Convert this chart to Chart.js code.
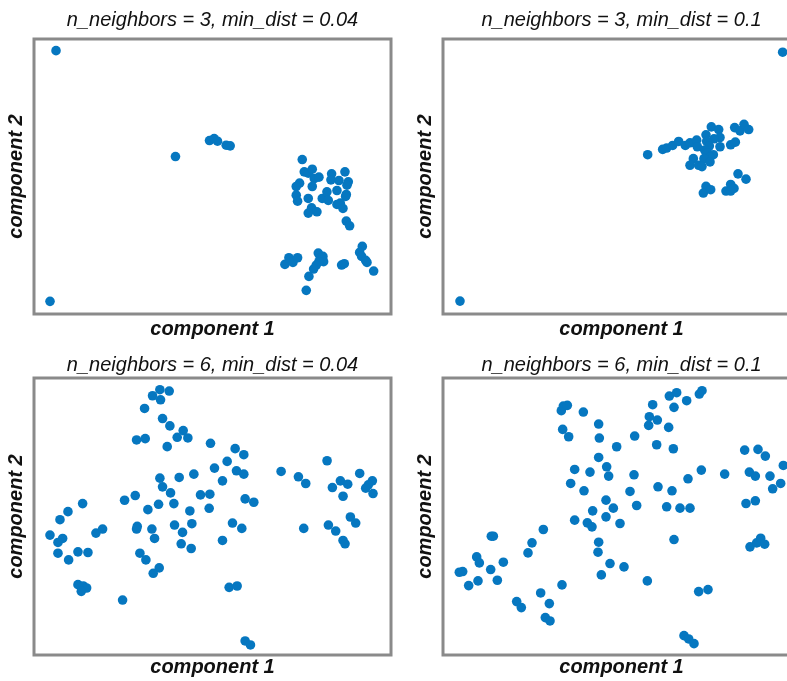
<!DOCTYPE html>
<html>
<head>
<meta charset="utf-8">
<script src="https://cdn.jsdelivr.net/npm/chart.js@4"></script>
<style>
html,body{margin:0;padding:0;background:#fff;overflow:hidden;width:787px;height:681px;}
canvas{position:absolute;}
</style>
</head>
<body>
<canvas id="c1" width="400" height="345" style="left:0;top:0;width:400px;height:345px"></canvas>
<canvas id="c2" width="400" height="345" style="left:409px;top:0;width:400px;height:345px"></canvas>
<canvas id="c3" width="400" height="342" style="left:0;top:339px;width:400px;height:342px"></canvas>
<canvas id="c4" width="400" height="342" style="left:409px;top:339px;width:400px;height:342px"></canvas>
<script>
// Panel titles and axis labels
const panelTitles = [
  'n_neighbors = 3, min_dist = 0.04',
  'n_neighbors = 3, min_dist = 0.1',
  'n_neighbors = 6, min_dist = 0.04',
  'n_neighbors = 6, min_dist = 0.1'
];
const xLabel = 'component 1';
const yLabel = 'component 2';

// Embedding points [component1, component2] (arbitrary units, component 2 measured downward)
const emb_n3_d004 = [
  [78,62],[60,815],[436,380],[538,332],[552,326],[562,334],[588,346],[600,348],
  [816,389],[822,426],[834,430],[846,418],[852,446],[866,442],[904,432],[902,450],
  [926,452],[944,426],[954,456],[950,466],[808,460],[798,470],[798,496],[802,514],
  [846,470],[834,506],[876,506],[890,486],[894,512],[920,482],[948,494],[946,500],
  [920,524],[930,520],[938,536],[844,534],[834,550],[860,546],[948,574],[958,588],
  [996,650],[988,668],[994,680],[1006,692],[1010,698],[1030,724],[934,706],[942,702],
  [764,704],[776,684],[788,698],[802,684],[864,670],[870,684],[878,680],[880,696],
  [866,696],[858,706],[850,718],[836,740],[828,782]
];
const emb_n3_d01 = [
  [1118,60],[150,813],[713,370],[758,354],[770,350],[788,342],[806,330],[826,342],
  [840,334],[860,326],[862,346],[888,310],[904,286],[926,294],[930,318],[912,322],
  [890,330],[898,344],[930,346],[884,356],[892,364],[910,370],[900,378],[882,382],
  [850,382],[840,402],[866,402],[876,406],[900,392],[974,288],[990,298],[1002,278],
  [1016,294],[962,340],[976,332],[984,428],[1008,444],[888,466],[880,486],[902,476],
  [962,460],[948,480],[962,480],[972,472]
];
const emb_n6_d004 = [
  [478,90],[506,94],[456,108],[480,120],[432,146],[486,176],[508,198],[548,212],
  [530,232],[562,234],[408,240],[434,236],[500,260],[630,250],[704,266],[730,284],
  [680,304],[642,324],[708,332],[730,342],[842,334],[980,302],[894,350],[916,370],
  [1078,340],[1020,362],[1042,372],[996,382],[1028,408],[1116,362],[1104,374],[1096,384],
  [1118,400],[478,354],[536,352],[580,342],[666,362],[486,380],[510,398],[600,404],
  [628,402],[372,420],[404,406],[474,432],[520,430],[442,448],[626,444],[568,452],
  [734,416],[760,426],[246,430],[202,454],[178,478],[148,524],[186,534],[172,546],
  [286,518],[306,506],[410,498],[408,506],[454,506],[462,534],[522,494],[574,490],
  [546,516],[542,550],[572,564],[696,488],[724,504],[666,540],[910,504],[984,494],
  [1006,512],[1028,540],[1034,550],[1050,470],[1066,488],[172,578],[204,598],[232,574],
  [262,576],[418,578],[436,598],[476,622],[458,638],[232,672],[248,676],[258,682],
  [242,692],[366,718],[686,680],[710,676],[734,840],[750,852]
];
const emb_n6_d01 = [
  [454,156],[460,142],[472,140],[520,160],[458,212],[476,234],[566,196],[568,238],
  [620,264],[674,232],[566,296],[590,324],[596,352],[494,332],[540,340],[482,374],
  [522,396],[728,138],[718,174],[742,184],[716,200],[778,112],[800,102],[792,146],
  [830,126],[868,106],[876,96],[776,206],[740,258],[790,270],[672,348],[660,398],
  [680,440],[744,384],[786,396],[834,360],[874,334],[944,346],[1004,274],[1044,272],
  [1066,292],[1120,320],[1018,340],[1036,352],[1080,352],[1112,374],[1088,390],[1008,434],
  [1036,426],[770,444],[810,448],[840,448],[588,424],[610,448],[548,456],[588,474],
  [630,494],[494,484],[532,492],[546,504],[400,512],[566,550],[564,580],[792,542],
  [1020,564],[1040,552],[1052,538],[1064,556],[244,532],[250,532],[366,552],[354,582],
  [200,594],[208,612],[280,610],[148,640],[158,638],[242,632],[176,680],[204,666],
  [262,664],[600,614],[642,624],[574,648],[712,666],[456,678],[392,702],[418,734],
  [320,728],[334,746],[406,776],[420,786],[866,698],[894,692],[822,830],[836,840],
  [852,854]
];

// Visible extent of each panel's axes
const xRanges = [[12,1082],[99,1170],[100,1172],[99,1170]];
const yRanges = [[27,853],[20,852],[55,882],[58,888]];

const pointColor = '#0677c0';
const boxColor = '#8a8a8a';
const fontFamily = "'Liberation Sans', Arial, Helvetica, sans-serif";

const boxPlugin = {
  id: 'boxPlugin',
  afterDraw(chart) {
    const a = chart.chartArea, ctx = chart.ctx;
    ctx.save();
    ctx.strokeStyle = boxColor;
    ctx.lineWidth = 3;
    ctx.strokeRect(a.left, a.top, a.right - a.left, a.bottom - a.top);
    ctx.restore();
  }
};

function makeChart(id, idx, data, isTop) {
  const titlePadTop = isTop ? 8 : 14;
  const titlePadBottom = isTop ? 7 : 1;
  const xScaleHeight = isTop ? 31 : 26;
  const xTitlePadBottom = isTop ? 4 : 2;
  new Chart(document.getElementById(id), {
    type: 'scatter',
    data: {
      datasets: [{
        data: data.map(p => ({x: p[0], y: p[1]})),
        backgroundColor: pointColor,
        borderColor: pointColor,
        pointRadius: 4.8,
        pointBorderWidth: 0
      }]
    },
    options: {
      responsive: false,
      animation: false,
      events: [],
      layout: {padding: {left: 0, right: 9, top: 0, bottom: 0}},
      plugins: {
        legend: {display: false},
        tooltip: {enabled: false},
        title: {
          display: true,
          text: panelTitles[idx],
          fullSize: false,
          color: '#111',
          font: {family: fontFamily, size: 20, style: 'italic', weight: 'normal', lineHeight: 1.2},
          padding: {top: titlePadTop, bottom: titlePadBottom}
        }
      },
      scales: {
        x: {
          type: 'linear',
          min: xRanges[idx][0], max: xRanges[idx][1],
          grid: {display: false},
          border: {display: false},
          ticks: {display: false},
          title: {
            display: true, text: xLabel, color: '#111',
            font: {family: fontFamily, size: 20, style: 'italic', weight: 'bold', lineHeight: 1.2},
            padding: {top: 0, bottom: xTitlePadBottom}
          },
          afterFit(s) { s.height = xScaleHeight; }
        },
        y: {
          type: 'linear',
          reverse: true,
          min: yRanges[idx][0], max: yRanges[idx][1],
          grid: {display: false},
          border: {display: false},
          ticks: {display: false},
          title: {
            display: true, text: yLabel, color: '#111',
            font: {family: fontFamily, size: 20, style: 'italic', weight: 'bold', lineHeight: 1.2},
            padding: {top: 4, bottom: 0}
          },
          afterFit(s) { s.width = 34; }
        }
      }
    },
    plugins: [boxPlugin]
  });
}

makeChart('c1', 0, emb_n3_d004, true);
makeChart('c2', 1, emb_n3_d01, true);
makeChart('c3', 2, emb_n6_d004, false);
makeChart('c4', 3, emb_n6_d01, false);
</script>
</body>
</html>
